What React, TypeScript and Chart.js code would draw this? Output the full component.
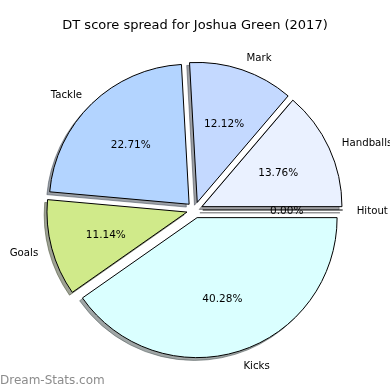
import React, { useEffect, useRef } from "react";
import { Chart, registerables } from "chart.js";

Chart.register(...registerables);

// Slices in drawing order: clockwise from 3 o'clock
const categories = ["Kicks", "Goals", "Tackle", "Mark", "Handballs", "Hitout"];
const shares = [40.28, 11.14, 22.71, 12.12, 13.76, 0.0];
const sliceColors = ["#DAFFFF", "#D0EA8A", "#B3D4FF", "#C4D9FF", "#EAF1FF", "#F2F6FF"];
const chartTitle = "DT score spread for Joshua Green (2017)";
const watermark = "Dream-Stats.com";

const RADIUS = 140;
const EXPLODE = 8;
const SHADOW_DX = -2.8;
const SHADOW_DY = 2.8;
const TEXT_DY = 1.5;
const FONT = '"DejaVu Sans", sans-serif';

function hexToRgb(h: string): number[] {
  const v = h.replace("#", "");
  return [0, 2, 4].map((i) => parseInt(v.slice(i, i + 2), 16));
}

const piePlugin = {
  id: "mplPie",
  beforeDatasetDraw(chart: any, args: any) {
    const ctx: CanvasRenderingContext2D = chart.ctx;
    const arcs = args.meta.data;
    // shadows (behind every wedge)
    arcs.forEach((arc: any, i: number) => {
      const { x, y, startAngle, endAngle, outerRadius } = arc.getProps(
        ["x", "y", "startAngle", "endAngle", "outerRadius"],
        true
      );
      const mid = (startAngle + endAngle) / 2;
      const ox = x + Math.cos(mid) * EXPLODE + SHADOW_DX;
      const oy = y + Math.sin(mid) * EXPLODE + SHADOW_DY;
      const [r, g, b] = hexToRgb(sliceColors[i]);
      const col = `rgba(${Math.round(r * 0.3)},${Math.round(g * 0.3)},${Math.round(b * 0.3)},0.5)`;
      ctx.save();
      ctx.beginPath();
      ctx.moveTo(ox, oy);
      if (endAngle - startAngle > 1e-6) {
        ctx.arc(ox, oy, outerRadius, startAngle, endAngle);
      } else {
        ctx.lineTo(ox + Math.cos(mid) * outerRadius, oy + Math.sin(mid) * outerRadius);
      }
      ctx.closePath();
      ctx.fillStyle = col;
      ctx.fill();
      ctx.lineWidth = 1;
      ctx.lineJoin = "miter";
      ctx.strokeStyle = col;
      ctx.stroke();
      ctx.restore();
    });
    // exploded wedges
    arcs.forEach((arc: any) => {
      const { x, y, startAngle, endAngle, outerRadius } = arc.getProps(
        ["x", "y", "startAngle", "endAngle", "outerRadius"],
        true
      );
      const mid = (startAngle + endAngle) / 2;
      const dx = Math.cos(mid) * EXPLODE;
      const dy = Math.sin(mid) * EXPLODE;
      ctx.save();
      ctx.translate(dx, dy);
      if (endAngle - startAngle > 1e-6) {
        arc.draw(ctx, chart.chartArea);
      } else {
        ctx.beginPath();
        ctx.moveTo(x, y);
        ctx.lineTo(x + Math.cos(mid) * outerRadius, y + Math.sin(mid) * outerRadius);
        ctx.lineWidth = 1;
        ctx.strokeStyle = "#000";
        ctx.stroke();
      }
      ctx.restore();
    });
    return false;
  },
  afterDraw(chart: any) {
    const ctx: CanvasRenderingContext2D = chart.ctx;
    const arcs = chart.getDatasetMeta(0).data;
    const data = chart.data.datasets[0].data as number[];
    ctx.save();
    ctx.fillStyle = "#000";
    ctx.textBaseline = "middle";
    arcs.forEach((arc: any, i: number) => {
      const { x, y, startAngle, endAngle, outerRadius } = arc.getProps(
        ["x", "y", "startAngle", "endAngle", "outerRadius"],
        true
      );
      const mid = (startAngle + endAngle) / 2;
      const c = Math.cos(mid);
      const s = Math.sin(mid);
      const lr = EXPLODE + 1.1 * outerRadius;
      ctx.font = `10.2px ${FONT}`;
      ctx.textAlign = c > 0 ? "left" : "right";
      ctx.fillText(chart.data.labels[i], x + c * lr, y + s * lr + TEXT_DY);
      const pr = EXPLODE + 0.6 * outerRadius;
      ctx.font = `10.5px ${FONT}`;
      ctx.textAlign = "center";
      ctx.fillText(`${data[i].toFixed(2)}%`, x + c * pr, y + s * pr + TEXT_DY);
    });
    ctx.font = `13px ${FONT}`;
    ctx.textAlign = "center";
    ctx.fillText(chartTitle, 195, 25.5);
    ctx.font = `12px ${FONT}`;
    ctx.textAlign = "left";
    ctx.fillStyle = "#8c8c8c";
    ctx.fillText(watermark, 0, 380.5);
    ctx.restore();
  },
};

export default function App() {
  const ref = useRef<HTMLCanvasElement | null>(null);
  useEffect(() => {
    document.body.style.margin = "0";
    if (!ref.current) return;
    const chart = new Chart(ref.current, {
      type: "pie",
      data: {
        labels: categories,
        datasets: [
          {
            data: shares,
            backgroundColor: sliceColors,
            borderColor: "#000",
            borderWidth: 1,
            borderJoinStyle: "miter",
            hoverOffset: 0,
            offset: 0,
          } as any,
        ],
      },
      options: {
        responsive: false,
        animation: false,
        events: [],
        rotation: 90,
        radius: RADIUS,
        layout: { padding: { left: 49.7, right: 50.3, top: 60, bottom: 30 } },
        plugins: {
          legend: { display: false },
          tooltip: { enabled: false },
          title: { display: false },
        },
      } as any,
      plugins: [piePlugin],
    });
    return () => chart.destroy();
  }, []);
  return (
    <div style={{ width: 390, height: 390, background: "#fff" }}>
      <canvas ref={ref} width={390} height={390} style={{ display: "block" }} />
    </div>
  );
}
